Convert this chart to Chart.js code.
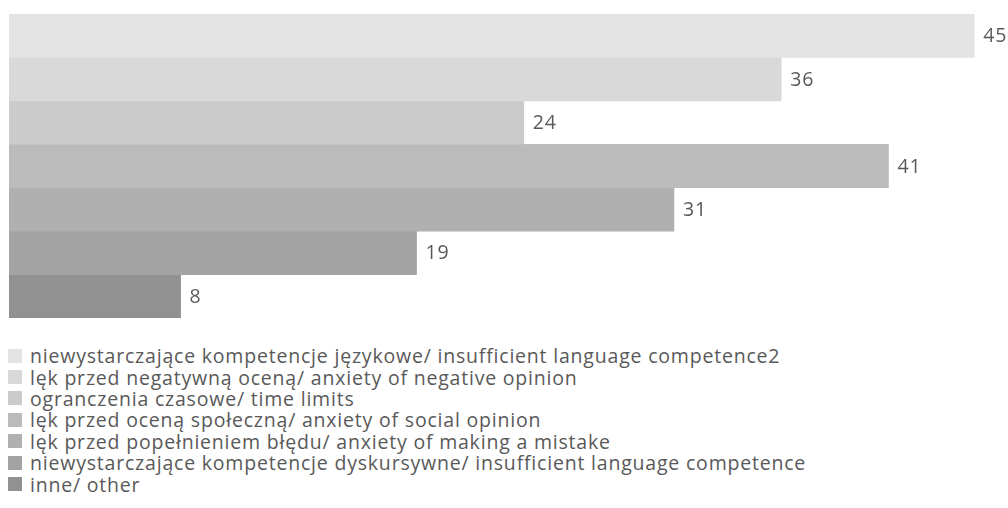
<!DOCTYPE html>
<html>
<head>
<meta charset="utf-8">
<script src="https://cdn.jsdelivr.net/npm/chart.js@4"></script>
<style>
  html, body { margin: 0; padding: 0; background: #ffffff; }
  body { width: 1008px; height: 508px; overflow: hidden; font-family: "Open Sans", Lato, sans-serif; }
  #wrap { position: relative; width: 1008px; height: 330px; }
  #legend { position: absolute; left: 8px; top: 345px; margin: 0; padding: 0; list-style: none; }
  #legend li { display: flex; align-items: center; height: 21.4px; font-size: 19.5px; letter-spacing: 0.8px; color: #595959; white-space: nowrap; }
  #legend .box { width: 14px; height: 14px; margin-right: 8px; flex: none; }
</style>
</head>
<body>
<div id="wrap"><canvas id="chart"></canvas></div>
<ul id="legend"></ul>
<script>
const seriesNames = [
  "niewystarczające kompetencje językowe/ insufficient language competence2",
  "lęk przed negatywną oceną/ anxiety of negative opinion",
  "ogranczenia czasowe/ time limits",
  "lęk przed oceną społeczną/ anxiety of social opinion",
  "lęk przed popełnieniem błędu/ anxiety of making a mistake",
  "niewystarczające kompetencje dyskursywne/ insufficient language competence",
  "inne/ other",
];
const seriesValues = [45, 36, 24, 41, 31, 19, 8];
const seriesColors = ["#e3e3e3", "#d9d9d9", "#cbcbcb", "#bbbbbb", "#b0b0b0", "#a3a3a3", "#919191"];
const categories = [""];

const valueLabels = {
  id: "valueLabels",
  afterDatasetsDraw(chart) {
    const ctx = chart.ctx;
    ctx.save();
    ctx.font = "19.5px 'Open Sans', Lato, sans-serif";
    ctx.letterSpacing = "0.8px";
    ctx.fillStyle = "#595959";
    ctx.textAlign = "left";
    ctx.textBaseline = "middle";
    chart.data.datasets.forEach((ds, i) => {
      const bar = chart.getDatasetMeta(i).data[0];
      ctx.fillText(String(ds.data[0]), bar.x + 9, bar.y + 1);
    });
    ctx.restore();
  },
};

const chart = new Chart(document.getElementById("chart"), {
  type: "bar",
  data: {
    labels: categories,
    datasets: seriesNames.map((name, i) => ({
      label: name,
      data: [seriesValues[i]],
      backgroundColor: seriesColors[i],
      borderWidth: 0,
      barPercentage: 1,
      categoryPercentage: 1,
    })),
  },
  options: {
    indexAxis: "y",
    responsive: true,
    maintainAspectRatio: false,
    animation: false,
    layout: { padding: { top: 14, left: 9, right: 8, bottom: 12 } },
    plugins: { legend: { display: false }, tooltip: { enabled: false } },
    scales: {
      x: { display: false, min: 0, max: 46.2 },
      y: { display: false },
    },
  },
  plugins: [valueLabels],
});

const legendEl = document.getElementById("legend");
seriesNames.forEach((name, i) => {
  const li = document.createElement("li");
  li.innerHTML = `<span class="box" style="background:${seriesColors[i]}"></span><span>${name}</span>`;
  legendEl.appendChild(li);
});
</script>
</body>
</html>
